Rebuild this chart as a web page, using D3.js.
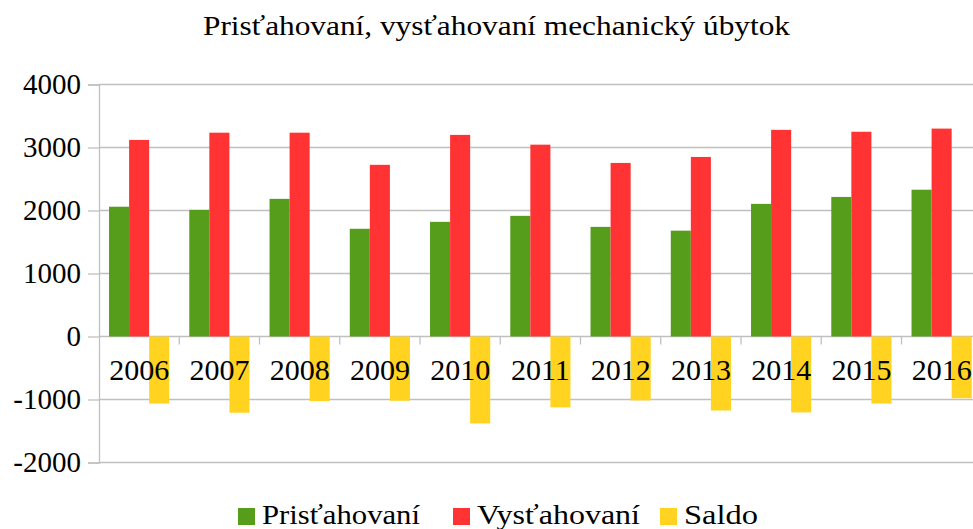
<!DOCTYPE html>
<html lang="sk">
<head>
<meta charset="utf-8">
<script src="https://d3js.org/d3.v7.min.js"></script>
<style>
    body { margin: 0; background: #fff; }
    svg text { font-family: "Liberation Serif", "Times New Roman", Times, Tinos, "DejaVu Serif", serif; fill: #000; }
</style>
</head>
<body>
<svg width="973" height="529"></svg>
<script>
var years = ["2006", "2007", "2008", "2009", "2010", "2011", "2012", "2013", "2014", "2015", "2016"];
var seriesNames = ["Prisťahovaní", "Vysťahovaní", "Saldo"];
var pristahovani = [2060, 2010, 2185, 1710, 1820, 1915, 1740, 1680, 2105, 2215, 2330];
var vystahovani = [3120, 3235, 3235, 2725, 3200, 3045, 2755, 2850, 3280, 3250, 3300];
var saldo = [-1065, -1210, -1025, -1020, -1380, -1125, -1015, -1175, -1205, -1065, -980];
var yTicks = [-2000, -1000, 0, 1000, 2000, 3000, 4000];
var colors = ["#579d1c", "#ff3333", "#ffd320"];

var svg = d3.select("svg");
var plotLeft = 99, plotW = 80.25 * years.length;
var plotTop = 84.5, plotBottom = 462.5;
var gridColor = "#c0c0c0";

var x = d3.scaleBand().domain(years).range([plotLeft, plotLeft + plotW]);
var x1 = d3.scaleBand().domain(seriesNames).range([0, x.bandwidth()]).paddingOuter(0.5);
var y = d3.scaleLinear().domain([-2000, 4000]).range([plotBottom, plotTop]);

// gridlines
svg.append("g").selectAll("line").data(yTicks).enter().append("line")
    .attr("x1", plotLeft).attr("x2", plotLeft + plotW)
    .attr("y1", d => y(d)).attr("y2", d => y(d))
    .attr("stroke", gridColor).attr("stroke-width", 1.3);

// y axis (plain hyphen for negatives, like the original)
var yAxis = svg.append("g").attr("transform", `translate(${plotLeft},0)`)
    .call(d3.axisLeft(y).tickValues(yTicks).tickSize(11).tickPadding(7).tickFormat(d => String(d)));
yAxis.attr("font-family", null);
yAxis.select(".domain").attr("stroke", gridColor).attr("stroke-width", 1.3);
yAxis.selectAll(".tick line").attr("stroke", gridColor).attr("stroke-width", 1.3);
yAxis.selectAll("text").attr("font-size", 29);

// bars
var table = years.map((yr, i) => ({ year: yr, values: [pristahovani[i], vystahovani[i], saldo[i]] }));
var groups = svg.append("g").selectAll("g").data(table).enter().append("g")
    .attr("transform", d => `translate(${x(d.year)},0)`);
groups.selectAll("rect").data(d => d.values.map((v, k) => ({ key: seriesNames[k], v, k })))
    .enter().append("rect")
    .attr("x", d => x1(d.key))
    .attr("width", x1.bandwidth())
    .attr("y", d => y(Math.max(0, d.v)))
    .attr("height", d => Math.abs(y(d.v) - y(0)))
    .attr("fill", d => colors[d.k]);

// x axis along zero line, labels drawn over the bars
var xAxis = svg.append("g").attr("transform", `translate(0,${y(0)})`)
    .call(d3.axisBottom(x).tickSize(0));
xAxis.attr("font-family", null);
xAxis.select(".domain").remove();
xAxis.selectAll("text").attr("font-size", 30).attr("dy", null).attr("y", 380 - y(0));
svg.append("g").selectAll("line").data(years.slice(1)).enter().append("line")
    .attr("x1", d => x(d)).attr("x2", d => x(d))
    .attr("y1", y(0)).attr("y2", y(0) + 8)
    .attr("stroke", gridColor).attr("stroke-width", 1.3);

// title
svg.append("text").attr("x", 496.5).attr("y", 35).attr("text-anchor", "middle")
    .attr("font-size", 28).attr("textLength", 587).attr("lengthAdjust", "spacingAndGlyphs")
    .text("Prisťahovaní, vysťahovaní mechanický úbytok");

// legend
var legendX = [238, 453, 660];
var legendW = [158, 163, 74];
var legend = svg.append("g").selectAll("g").data(seriesNames).enter().append("g")
    .attr("transform", (d, i) => `translate(${legendX[i]},508)`);
legend.append("rect").attr("width", 17).attr("height", 17).attr("fill", (d, i) => colors[i]);
legend.append("text").attr("x", 24).attr("y", 16).attr("font-size", 27)
    .attr("textLength", (d, i) => legendW[i]).attr("lengthAdjust", "spacingAndGlyphs")
    .text(d => d);
</script>
</body>
</html>
